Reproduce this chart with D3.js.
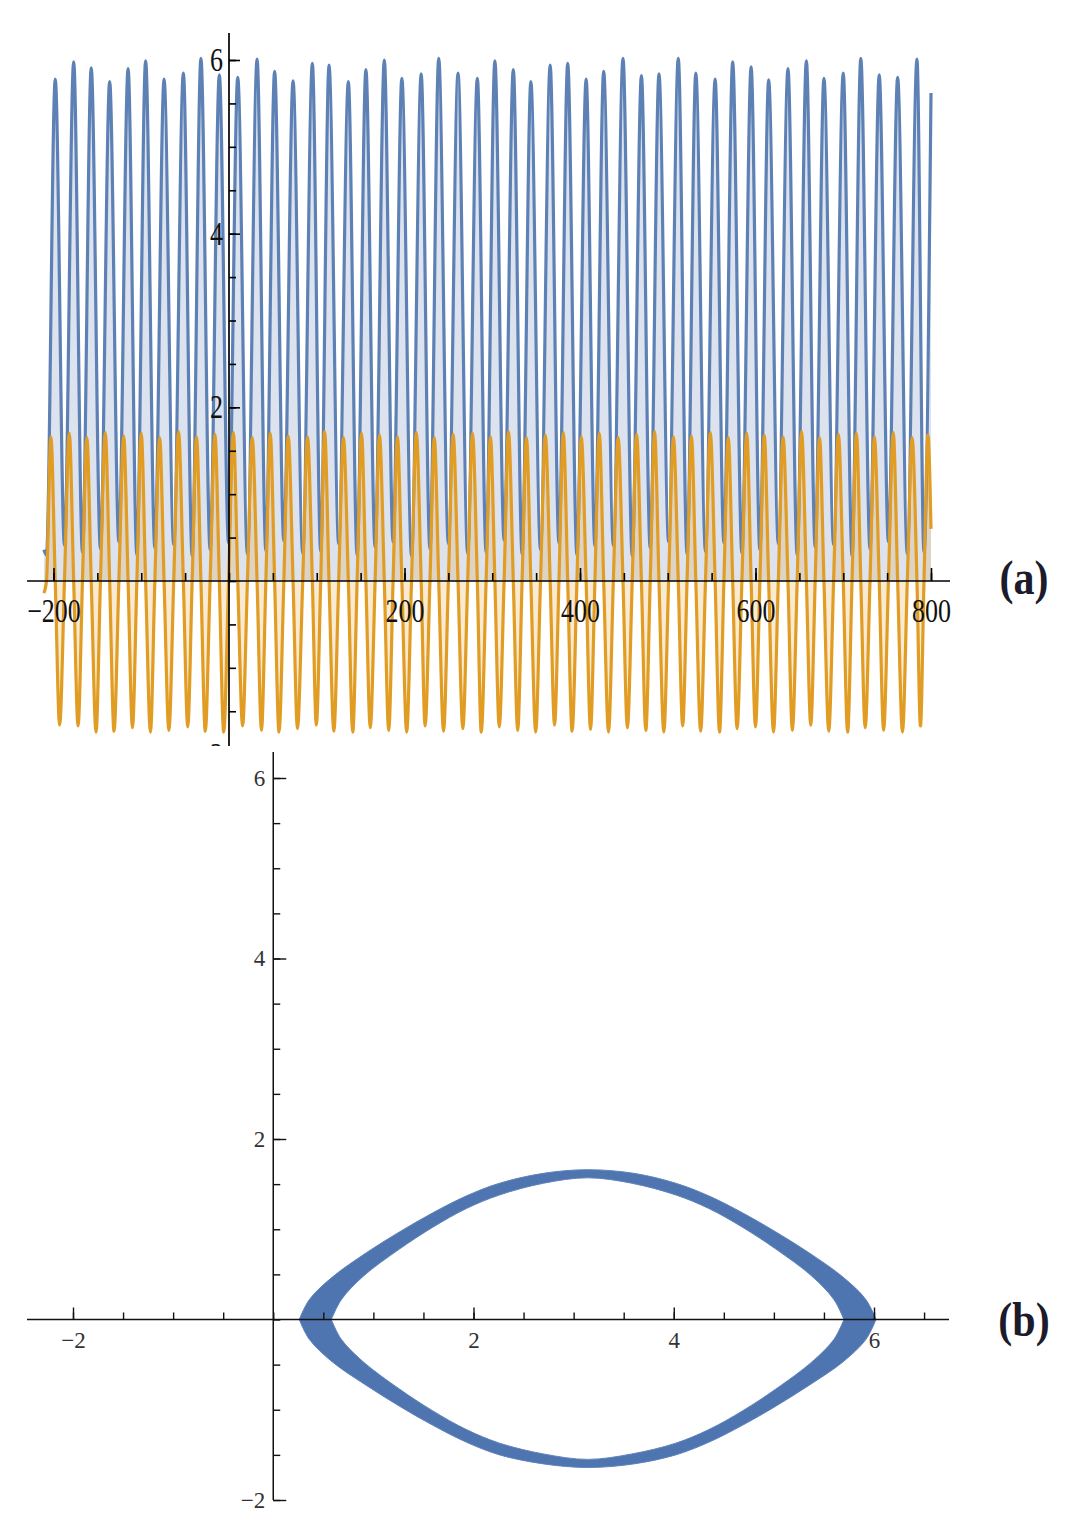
<!DOCTYPE html>
<html>
<head>
<meta charset="utf-8">
<script src="https://cdn.jsdelivr.net/npm/d3@7"></script>
<style>
  body { margin: 0; background: #fff; }
  svg text { font-family: "Liberation Serif", "DejaVu Serif", serif; }
</style>
</head>
<body>
<script>
// (a) theta(t): peaks and troughs
const bluePeakT = [-198, -177, -157, -136, -115, -95, -74, -52, -32, -11,
    10, 32, 52, 73, 95, 114, 136, 156, 177, 197,
    219, 239, 261, 283, 303, 324, 344, 366, 386, 407,
    427, 449, 470, 490, 512, 532, 554, 574, 595, 615,
    637, 658, 678, 700, 720, 741, 762, 784]
const bluePeakV = [5.78, 5.98, 5.91, 5.75, 5.90, 5.99, 5.78, 5.85, 6.02, 5.83,
    5.80, 6.01, 5.87, 5.76, 5.96, 5.94, 5.75, 5.89, 6.00, 5.79,
    5.84, 6.02, 5.85, 5.79, 5.99, 5.89, 5.75, 5.94, 5.96, 5.78,
    5.87, 6.02, 5.82, 5.84, 6.02, 5.85, 5.78, 5.98, 5.92, 5.77,
    5.90, 5.99, 5.79, 5.85, 6.02, 5.83, 5.80, 6.01]
const blueTroughT = [-208, -187.5, -167, -146.5, -125.5, -105, -84.5, -63, -42, -21.5,
    -0.5, 21, 42, 62.5, 84, 104.5, 125, 146, 166.5, 187,
    208, 229, 250, 272, 293, 313.5, 334, 355, 376, 396.5,
    417, 438, 459.5, 480, 501, 522, 543, 564, 584.5, 605,
    626, 647.5, 668, 689, 710, 730.5, 751.5, 773, 792]
const blueTroughV = [0.30, 0.41, 0.33, 0.37, 0.45, 0.30, 0.38, 0.42, 0.29, 0.36,
    0.44, 0.31, 0.35, 0.46, 0.32, 0.34, 0.43, 0.30, 0.39, 0.45,
    0.29, 0.37, 0.43, 0.32, 0.33, 0.47, 0.31, 0.36, 0.44, 0.30,
    0.40, 0.41, 0.29, 0.38, 0.45, 0.31, 0.34, 0.44, 0.32, 0.36,
    0.43, 0.30, 0.39, 0.42, 0.29, 0.37, 0.45, 0.31, 0.33]
const blueEnds = [[-211, 0.36], [800, 5.62]]

// (a) theta'(t): spikes up and down
const orangeMaxT = [-203, -182, -162, -141, -120, -100, -79, -57.5, -37, -16,
    5, 26.5, 47, 67.5, 89.5, 109, 130.5, 151, 171.5, 192,
    213.5, 234, 255.5, 277.5, 298, 318.5, 339, 360.5, 381, 401.5,
    422, 443.5, 464.5, 485, 506.5, 527, 548.5, 569, 590, 610,
    631.5, 652.5, 673, 694.5, 715, 735.5, 757, 778.5, 796.5]
const orangeMaxV = [1.66, 1.70, 1.65, 1.71, 1.67, 1.70, 1.65, 1.72, 1.66, 1.69,
    1.71, 1.65, 1.70, 1.67, 1.66, 1.72, 1.65, 1.70, 1.68, 1.66,
    1.71, 1.65, 1.69, 1.70, 1.66, 1.72, 1.65, 1.68, 1.71, 1.66,
    1.70, 1.65, 1.69, 1.72, 1.66, 1.67, 1.71, 1.65, 1.70, 1.68,
    1.66, 1.72, 1.65, 1.69, 1.70, 1.66, 1.71, 1.65, 1.68]
const orangeMinT = [-193, -172, -151.5, -131, -110, -89.5, -68.5, -47, -27, -6,
    15.5, 37, 57, 78, 99.5, 119.5, 141, 161, 182, 202.5,
    223.5, 244.5, 266.5, 287.5, 308, 329, 349.5, 371, 391, 412,
    432.5, 454, 475, 495.5, 517, 537.5, 559, 579, 600, 620.5,
    642, 663, 683.5, 705, 725, 746, 767.5, 788]
const orangeMinV = [-1.66, -1.67, -1.74, -1.73, -1.69, -1.74, -1.72, -1.68, -1.73, -1.74,
    -1.67, -1.72, -1.74, -1.70, -1.66, -1.73, -1.74, -1.69, -1.72, -1.74,
    -1.67, -1.73, -1.70, -1.74, -1.68, -1.72, -1.74, -1.66, -1.73, -1.71,
    -1.74, -1.69, -1.72, -1.74, -1.67, -1.73, -1.74, -1.70, -1.68, -1.74,
    -1.72, -1.66, -1.73, -1.74, -1.69, -1.72, -1.74, -1.67]
const orangeEnds = [[-211, -0.14], [800, 0.6]]

// (b) phase portrait band, tip to tip (theta, theta')
const outerUpper = [[0.26, 0], [0.36, 0.22], [0.59, 0.47], [0.93, 0.74], [1.26, 0.97], [1.59, 1.18],
    [1.93, 1.37], [2.26, 1.51], [2.7, 1.62], [3.14, 1.66], [3.6, 1.62], [4.02, 1.51], [4.35, 1.37],
    [4.69, 1.18], [5.02, 0.97], [5.35, 0.74], [5.69, 0.47], [5.92, 0.22], [6.02, 0]]
const outerLower = [[6.02, 0], [5.92, -0.22], [5.69, -0.47], [5.35, -0.73], [5.02, -0.96], [4.69, -1.17],
    [4.35, -1.36], [4.02, -1.50], [3.6, -1.60], [3.14, -1.64], [2.7, -1.60], [2.26, -1.50], [1.93, -1.36],
    [1.59, -1.17], [1.26, -0.96], [0.93, -0.73], [0.59, -0.47], [0.36, -0.22], [0.26, 0]]
const innerUpper = [[0.58, 0], [0.68, 0.22], [0.90, 0.48], [1.26, 0.78], [1.59, 1.02], [1.93, 1.23],
    [2.26, 1.38], [2.7, 1.51], [3.14, 1.57], [3.58, 1.51], [4.02, 1.38], [4.35, 1.23], [4.69, 1.02],
    [5.02, 0.78], [5.38, 0.48], [5.60, 0.22], [5.70, 0]]
const innerLower = [[5.70, 0], [5.60, -0.22], [5.38, -0.47], [5.02, -0.77], [4.69, -1.01], [4.35, -1.22],
    [4.02, -1.37], [3.58, -1.49], [3.14, -1.55], [2.7, -1.49], [2.26, -1.37], [1.93, -1.22], [1.59, -1.01],
    [1.26, -0.77], [0.90, -0.47], [0.68, -0.22], [0.58, 0]]

// tick labels
const tLabels = [-200, 200, 400, 600, 800]
const aLabels = [-2, 2, 4, 6]
const bLabels = [-2, 2, 4, 6]

const width = 1070, height = 1538
const blue = '#5e81b5', orange = '#e19c24'
const fmt = d => d < 0 ? '\u2212' + Math.abs(d) : d

const svg = d3.select('body').append('svg').attr('width', width).attr('height', height)

// ---------- panel (a) ----------
svg.append('clipPath').attr('id', 'clipA')
    .append('rect').attr('x', 0).attr('y', 0).attr('width', width).attr('height', 746)

const pa = svg.append('g').attr('clip-path', 'url(#clipA)')

const x = d3.scaleLinear().domain([-200, 800]).range([53.5, 931])
const y = d3.scaleLinear().domain([0, 6]).range([581, 60])

const bluePts = bluePeakT.map((t, i) => [t, bluePeakV[i]])
    .concat(blueTroughT.map((t, i) => [t, blueTroughV[i]]), blueEnds)
    .sort((a, b) => a[0] - b[0])
const orangePts = orangeMaxT.map((t, i) => [t, orangeMaxV[i]])
    .concat(orangeMinT.map((t, i) => [t, orangeMinV[i]]),
        bluePeakT.map(t => [t, 0]), blueTroughT.map(t => [t, 0]), orangeEnds)
    .sort((a, b) => a[0] - b[0])

const area = d3.area().x(d => x(d[0])).y0(y(0)).y1(d => y(d[1])).curve(d3.curveMonotoneX)
const line = d3.line().x(d => x(d[0])).y(d => y(d[1])).curve(d3.curveMonotoneX)

pa.append('path').attr('d', area(bluePts)).attr('fill', blue).attr('fill-opacity', 0.22)
pa.append('path').attr('d', area(orangePts)).attr('fill', orange).attr('fill-opacity', 0.2)
pa.append('path').attr('d', line(bluePts)).attr('fill', 'none').attr('stroke', blue).attr('stroke-width', 3.2)
pa.append('path').attr('d', line(orangePts)).attr('fill', 'none').attr('stroke', orange).attr('stroke-width', 3.2)

// axes (a)
pa.append('line').attr('x1', 27).attr('x2', 950).attr('y1', y(0)).attr('y2', y(0))
    .attr('stroke', '#000').attr('stroke-width', 1.7)
pa.append('line').attr('x1', x(0)).attr('x2', x(0)).attr('y1', 33).attr('y2', y(-2.2))
    .attr('stroke', '#000').attr('stroke-width', 1.7)

const axA_minor = d3.axisBottom(x).tickValues(d3.range(-200, 801, 50)).tickSizeInner(-8).tickSizeOuter(0).tickFormat('')
const axA_major = d3.axisBottom(x).tickValues(tLabels).tickSizeInner(-13).tickSizeOuter(0).tickFormat(fmt)
pa.append('g').attr('transform', `translate(0,${y(0)})`).call(axA_minor)
const gx = pa.append('g').attr('transform', `translate(0,${y(0)})`).call(axA_major)

const ayMinor = d3.axisLeft(y).tickValues(d3.range(-2, 6.01, 0.5)).tickSizeInner(-7).tickSizeOuter(0).tickFormat('')
const ayMajor = d3.axisLeft(y).tickValues(aLabels).tickSizeInner(-11).tickSizeOuter(0).tickPadding(6).tickFormat(fmt)
pa.append('g').attr('transform', `translate(${x(0)},0)`).call(ayMinor)
const gy = pa.append('g').attr('transform', `translate(${x(0)},0)`).call(ayMajor)

pa.selectAll('.domain').remove()
pa.selectAll('.tick line').attr('stroke', '#000').attr('stroke-width', 1.6)
gx.selectAll('text').attr('y', 32.5).attr('dy', null).attr('transform', 'scale(1,1.26)')
    .attr('font-size', 26).attr('fill', '#111').attr('font-family', null)
gy.selectAll('text').attr('transform', 'scale(1,1.26)')
    .attr('font-size', 26).attr('fill', '#111').attr('font-family', null)

svg.append('text').attr('transform', 'translate(1024,594) scale(1,1.18)')
    .attr('text-anchor', 'middle').attr('font-size', 42).attr('font-weight', 'bold')
    .attr('fill', '#1b1b2b').text('(a)')

// ---------- panel (b) ----------
const pb = svg.append('g')
const x2 = d3.scaleLinear().domain([-2, 6]).range([73, 874])
const y2 = d3.scaleLinear().domain([-2, 6]).range([1500, 778])

// each boundary: upper arc then lower arc, meeting in (slightly) pointed tips
const arc = d3.line().x(d => x2(d[0])).y(d => y2(d[1])).curve(d3.curveCatmullRom.alpha(0.5))
const ring = (up, lo) => arc(up) + arc(lo).replace(/^M/, 'L') + 'Z'
pb.append('path').attr('d', ring(outerUpper, outerLower) + ring(innerUpper, innerLower))
    .attr('fill', '#4e75af').attr('fill-rule', 'evenodd')
    .attr('stroke', '#5f84bb').attr('stroke-width', 1).attr('stroke-linejoin', 'round')

pb.append('line').attr('x1', 27).attr('x2', 949).attr('y1', y2(0)).attr('y2', y2(0))
    .attr('stroke', '#111').attr('stroke-width', 1.5)
pb.append('line').attr('x1', x2(0)).attr('x2', x2(0)).attr('y1', 752).attr('y2', y2(-2))
    .attr('stroke', '#111').attr('stroke-width', 1.5)

const bxMinor = d3.axisBottom(x2).tickValues(d3.range(-2, 6.51, 0.5)).tickSizeInner(-7).tickSizeOuter(0).tickFormat('')
const bxMajor = d3.axisBottom(x2).tickValues(bLabels).tickSizeInner(-12).tickSizeOuter(0).tickFormat(fmt)
const byMinor = d3.axisLeft(y2).tickValues(d3.range(-2, 6.01, 0.5)).tickSizeInner(-7).tickSizeOuter(0).tickFormat('')
const byMajor = d3.axisLeft(y2).tickValues(bLabels).tickSizeInner(-13).tickSizeOuter(0).tickPadding(8).tickFormat(fmt)

pb.append('g').attr('transform', `translate(0,${y2(0)})`).call(bxMinor)
const gx2 = pb.append('g').attr('transform', `translate(0,${y2(0)})`).call(bxMajor)
pb.append('g').attr('transform', `translate(${x2(0)},0)`).call(byMinor)
const gy2 = pb.append('g').attr('transform', `translate(${x2(0)},0)`).call(byMajor)

pb.selectAll('.domain').remove()
pb.selectAll('.tick line').attr('stroke', '#111').attr('stroke-width', 1.4)
gx2.selectAll('text').attr('y', 28).attr('dy', null)
    .attr('font-size', 23).attr('fill', '#333').attr('font-family', null)
gy2.selectAll('text').attr('font-size', 23).attr('fill', '#333').attr('font-family', null)

svg.append('text').attr('transform', 'translate(1024,1336) scale(1,1.18)')
    .attr('text-anchor', 'middle').attr('font-size', 42).attr('font-weight', 'bold')
    .attr('fill', '#1b1b2b').text('(b)')
</script>
</body>
</html>
